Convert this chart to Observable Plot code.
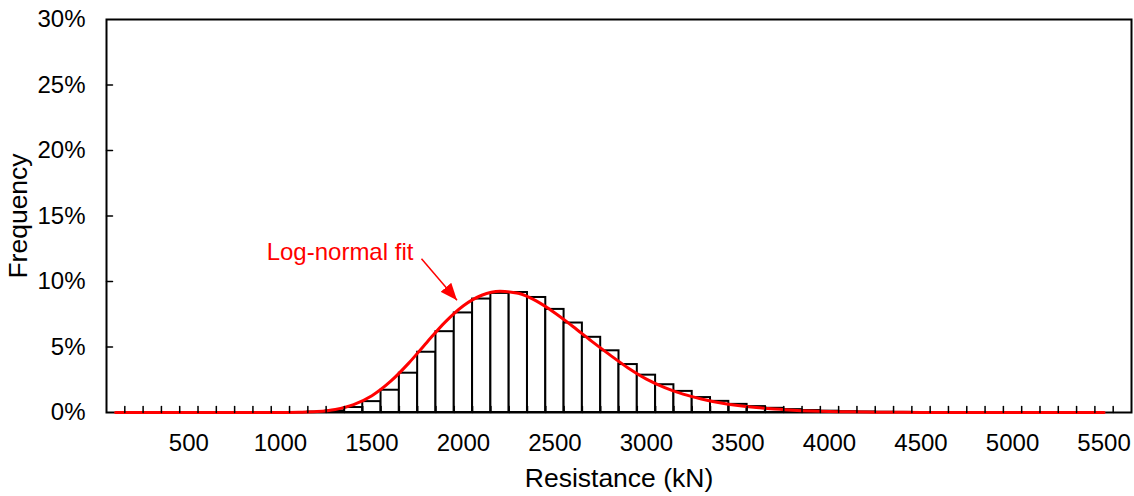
<!DOCTYPE html>
<html><head><meta charset="utf-8">
<script src="https://cdn.jsdelivr.net/npm/d3@7"></script>
<script src="https://cdn.jsdelivr.net/npm/@observablehq/plot@0.6"></script>
<style>body{margin:0;background:#fff}</style>
</head><body><div id="chart"></div>
<script>
// Category centres (kN), histogram frequency (%), log-normal fit (%)
const resistance = [100,200,300,400,500,600,700,800,900,1000,1100,1200,1300,1400,1500,1600,1700,1800,1900,2000,2100,2200,2300,2400,2500,2600,2700,2800,2900,3000,3100,3200,3300,3400,3500,3600,3700,3800,3900,4000,4100,4200,4300,4400,4500,4600,4700,4800,4900,5000,5100,5200,5300,5400,5500];
const frequency = [0,0,0,0,0,0,0,0,0,0,0,0.03,0.12,0.38,0.83,1.70,3.00,4.60,6.17,7.60,8.66,9.09,9.16,8.78,7.87,6.83,5.74,4.71,3.66,2.85,2.12,1.61,1.14,0.85,0.62,0.45,0.32,0.22,0.15,0.10,0.06,0.04,0.02,0.01,0,0,0,0,0,0,0,0,0,0,0];
const fit = [0,0,0,0,0,0,0,0,0,0,0.02,0.07,0.23,0.60,1.28,2.35,3.75,5.35,6.90,8.15,8.95,9.25,9.10,8.50,7.60,6.55,5.45,4.40,3.40,2.55,1.90,1.40,1.03,0.74,0.53,0.38,0.27,0.18,0.12,0.08,0.05,0.03,0.02,0.01,0,0,0,0,0,0,0,0,0,0,0];
const xLabels = [500,1000,1500,2000,2500,3000,3500,4000,4500,5000,5500];
const yTicks = [0,5,10,15,20,25,30];
const annotation = [{x: 925, y: 12.24, text: "Log-normal fit"}];
const arrowData = [{x1: 1771, y1: 11.73, x2: 1965, y2: 8.57}];

const bars = resistance.map((r, i) => ({r, f: frequency[i]})).filter(d => d.f > 0);
const curve = resistance.map((r, i) => ({r, v: fit[i]}));
const xTickMarks = resistance.map(r => r + 50);

const tickShape = {draw(ctx, l) { ctx.moveTo(0, 0); ctx.lineTo(0, -l); }};

const chart = Plot.plot({
  width: 1134, height: 496,
  marginLeft: 106, marginRight: 3, marginTop: 19, marginBottom: 84,
  style: {fontFamily: "'Liberation Sans', Arial, sans-serif", fontSize: "24px", color: "black", background: "white"},
  x: {domain: [50, 5650], ticks: xLabels, tickSize: 0, tickPadding: 21, label: null, tickFormat: d => String(d)},
  y: {domain: [0, 30], ticks: yTicks, tickSize: 0, tickPadding: 21, label: null, tickFormat: d => d + "%"},
  marks: [
    Plot.rect(bars, {x1: d => d.r - 50, x2: d => d.r + 50, y1: 0, y2: "f", fill: "white", stroke: "black", strokeWidth: 2}),
    Plot.frame({stroke: "black", strokeWidth: 2}),
    Plot.line(curve, {x: "r", y: "v", stroke: "#ff0000", strokeWidth: 3, curve: "monotone-x"}),
    Plot.vector(xTickMarks, {x: d => d, frameAnchor: "bottom", length: 6, anchor: "start", shape: tickShape, stroke: "black", strokeWidth: 1.5}),
    Plot.vector(yTicks.slice(1, -1), {y: d => d, frameAnchor: "left", rotate: 90, length: 6, anchor: "start", shape: tickShape, stroke: "black", strokeWidth: 1.5}),
    Plot.text(["Resistance (kN)"], {text: d => d, frameAnchor: "bottom", dy: 66.5, fontSize: 26.5, textAnchor: "middle", lineAnchor: "middle"}),
    Plot.text(["Frequency"], {text: d => d, frameAnchor: "left", rotate: -90, dx: -87.5, fontSize: 26.5, textAnchor: "middle", lineAnchor: "middle"}),
    Plot.text(annotation, {x: "x", y: "y", text: "text", fill: "#ff0000", textAnchor: "start", lineAnchor: "middle", fontSize: 24}),
    Plot.link(arrowData, {x1: "x1", y1: "y1", x2: "x2", y2: "y2", stroke: "#ff0000", strokeWidth: 1.5})
  ]
});

const svg = d3.select(chart);
const marker = svg.append("defs").append("marker")
  .attr("id", "tri").attr("viewBox", "0 0 17 14").attr("refX", 17).attr("refY", 7)
  .attr("markerWidth", 17).attr("markerHeight", 14).attr("markerUnits", "userSpaceOnUse").attr("orient", "auto");
marker.append("path").attr("d", "M0,0L17,7L0,14Z").attr("fill", "#ff0000");
svg.selectAll('g[aria-label="link"] path').attr("marker-end", "url(#tri)");

document.getElementById("chart").appendChild(chart);
</script>
</body></html>
